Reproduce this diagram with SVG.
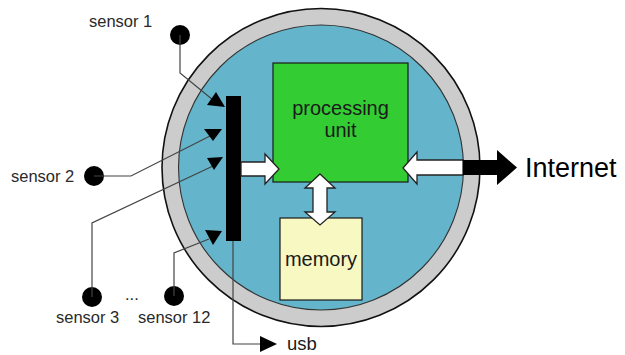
<svg xmlns="http://www.w3.org/2000/svg" width="625" height="355" viewBox="0 0 625 355">
<style>
.lbl{font-family:"Liberation Sans",Arial,sans-serif;font-size:16.5px;fill:#2a2a2a}
.big{font-family:"Liberation Sans",Arial,sans-serif;font-size:20px;fill:#1a1a1a;text-anchor:middle}
.wire{fill:none;stroke:#444;stroke-width:1.2}
.dot{fill:#000}
.head{fill:#000}
.warrow{fill:#fff;stroke:#222;stroke-width:1.3;stroke-linejoin:miter}
</style>
<rect width="625" height="355" fill="#fff"/>
<g id="device">
  <circle cx="321" cy="167.5" r="159" fill="#cccccc" stroke="#111" stroke-width="1.6"/>
  <circle cx="321" cy="167.5" r="142.5" fill="#64b5cb" stroke="#333" stroke-width="1.1"/>
</g>
<g id="processing-unit">
  <rect x="273" y="63" width="135" height="119" fill="#33cc33" stroke="#1a1a1a" stroke-width="1.2"/>
  <text class="big" x="340.5" y="115">processing</text>
  <text class="big" x="340.5" y="137">unit</text>
</g>
<g id="memory">
  <rect x="280" y="218" width="82" height="82" fill="#f8f8c2" stroke="#1a1a1a" stroke-width="1.2"/>
  <text class="big" x="321" y="266">memory</text>
</g>
<g id="bus">
  <rect x="226" y="96" width="15" height="145" fill="#000"/>
</g>
<g id="sensor-1">
  <circle class="dot" cx="180" cy="35" r="10"/>
  <text class="lbl" x="89" y="27">sensor 1</text>
</g>
<g id="sensor-2">
  <circle class="dot" cx="94" cy="176" r="10"/>
  <text class="lbl" x="11" y="182">sensor 2</text>
</g>
<g id="sensor-3">
  <circle class="dot" cx="92" cy="297" r="10"/>
  <text class="lbl" x="56" y="323">sensor 3</text>
</g>
<g id="ellipsis">
  <text class="lbl" x="125" y="300">...</text>
</g>
<g id="sensor-12">
  <circle class="dot" cx="174" cy="296" r="10"/>
  <text class="lbl" x="138" y="323">sensor 12</text>
</g>
<g id="usb">
  <text font-family="Liberation Sans, Arial, sans-serif" font-size="18.5" fill="#1a1a1a" x="287" y="350">usb</text>
</g>
<g id="internet">
  <text font-family="Liberation Sans, Arial, sans-serif" font-size="27" fill="#000" x="525" y="177">Internet</text>
</g>
<g id="connectors">
  <polyline class="wire" points="180,35 180,73 213,100"/>
  <polygon class="head" points="207,105 216,92 225,107"/>
  <polyline class="wire" points="94,176 131,176 212,135"/>
  <polygon class="head" points="204,129 222,129 213,141"/>
  <polyline class="wire" points="92,297 92,223 213,166"/>
  <polygon class="head" points="207,158 223,157 214,170"/>
  <polyline class="wire" points="174,296 174,253 209,239"/>
  <polygon class="head" points="205,230 222,231 213,245"/>
  <polyline class="wire" points="233,241 233,344 262,344"/>
  <polygon class="head" points="260,336 277,344 260,352"/>
  <polygon class="warrow" points="241,162 265,162 265,154 279,169 265,184 265,176 241,176"/>
  <polygon class="warrow" points="320,174 335,188 327,188 327,212 335,212 320,225 305,212 313,212 313,188 305,188"/>
  <polygon class="warrow" points="403,168 417,152 417,160 463,160 463,175 417,175 417,184"/>
  <polygon fill="#000" points="463,160 497,160 497,150 517,167.5 497,185 497,175 463,175"/>
</g>
</svg>
